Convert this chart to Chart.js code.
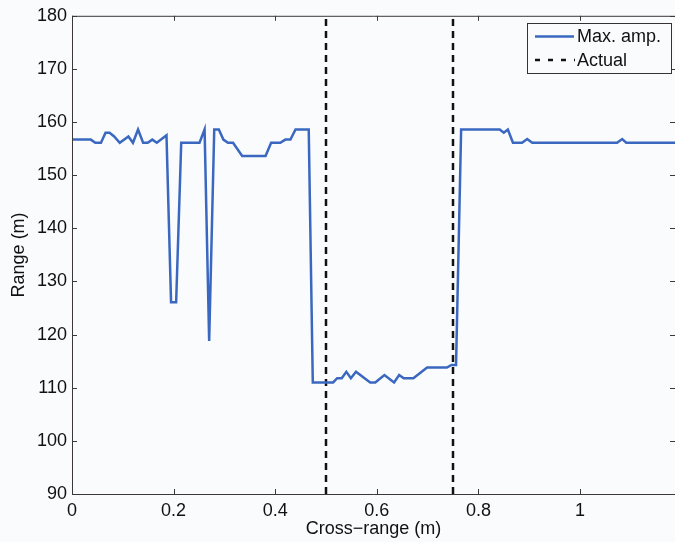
<!DOCTYPE html>
<html>
<head>
<meta charset="utf-8">
<script src="https://cdn.jsdelivr.net/npm/chart.js@4.4.1/dist/chart.umd.min.js"></script>
<style>
  html, body { margin: 0; padding: 0; background: #fafbfd; }
  #wrap { width: 675px; height: 542px; }
</style>
</head>
<body>
<div id="wrap"><canvas id="rangeChart" width="675" height="542"></canvas></div>
<script>
// cross-range positions (m) and max-amplitude range estimates (m)
var crossRange = [0, 0.037, 0.046, 0.057, 0.066, 0.074, 0.083, 0.094, 0.111, 0.120,
    0.130, 0.140, 0.149, 0.158, 0.167, 0.186, 0.195, 0.205, 0.215, 0.251,
    0.261, 0.270, 0.280, 0.289, 0.298, 0.307, 0.317, 0.335, 0.381, 0.392,
    0.410, 0.420, 0.430, 0.440, 0.466, 0.474, 0.514, 0.522, 0.531, 0.540,
    0.549, 0.559, 0.587, 0.597, 0.615, 0.634, 0.644, 0.653, 0.672, 0.699,
    0.738, 0.747, 0.756, 0.766, 0.842, 0.850, 0.858, 0.868, 0.886, 0.896,
    0.906, 1.073, 1.083, 1.091, 1.19];
var maxAmp = [156.7, 156.7, 156.1, 156.1, 158.0, 158.0, 157.3, 156.1, 157.3, 156.1,
    158.6, 156.1, 156.1, 156.7, 156.1, 157.5, 126.1, 126.1, 156.1, 156.1,
    158.6, 118.8, 158.6, 158.6, 156.7, 156.1, 156.1, 153.6, 153.6, 156.1,
    156.1, 156.7, 156.7, 158.6, 158.6, 111.0, 111.0, 111.8, 111.8, 113.0,
    111.8, 113.0, 111.0, 111.0, 112.4, 111.0, 112.4, 111.8, 111.8, 113.8,
    113.8, 114.3, 114.3, 158.6, 158.6, 158.0, 158.6, 156.1, 156.1, 156.8,
    156.1, 156.1, 156.8, 156.1, 156.1];
// actual target edges
var actualEdges = [0.5, 0.75];
var yLimits = [90, 180];
var xTicks = [0, 0.2, 0.4, 0.6, 0.8, 1];
var yTicks = [90, 100, 110, 120, 130, 140, 150, 160, 170, 180];
var legendLabels = ['Max. amp.', 'Actual'];

var blue = '#3a68c0';
var axisColor = '#3c3838';
var font = '"Liberation Sans", Arial, Helvetica, sans-serif';

var ampPoints = crossRange.map(function (x, i) { return { x: x, y: maxAmp[i] }; });

var datasets = [{
    label: legendLabels[0],
    data: ampPoints,
    borderColor: blue,
    borderWidth: 2.5,
    pointRadius: 0,
    tension: 0
}];
actualEdges.forEach(function (e) {
    datasets.push({
        label: legendLabels[1],
        data: [{ x: e, y: yLimits[0] }, { x: e, y: yLimits[1] }],
        borderColor: '#111',
        borderWidth: 2.5,
        borderDash: [7, 5],
        pointRadius: 0
    });
});

// matlab style box with inward ticks
var framePlugin = {
    id: 'frame',
    afterDatasetsDraw: function (chart) {
        var ctx = chart.ctx, a = chart.chartArea;
        var xs = chart.scales.x, ys = chart.scales.y;
        ctx.save();
        ctx.strokeStyle = axisColor;
        ctx.lineWidth = 1;
        ctx.beginPath();
        ctx.moveTo(a.left + 0.5, a.top + 0.5);
        ctx.lineTo(a.right, a.top + 0.5);
        ctx.moveTo(a.left + 0.5, a.top);
        ctx.lineTo(a.left + 0.5, a.bottom + 0.5);
        ctx.lineTo(a.right, a.bottom + 0.5);
        xTicks.forEach(function (t) {
            var px = Math.round(xs.getPixelForValue(t)) + 0.5;
            ctx.moveTo(px, a.bottom); ctx.lineTo(px, a.bottom - 5);
            ctx.moveTo(px, a.top); ctx.lineTo(px, a.top + 5);
        });
        yTicks.forEach(function (t) {
            var py = Math.round(ys.getPixelForValue(t)) + 0.5;
            ctx.moveTo(a.left, py); ctx.lineTo(a.left + 5, py);
            ctx.moveTo(a.right, py); ctx.lineTo(a.right - 5, py);
        });
        ctx.stroke();

        // legend box
        var bx = 527.5, by = 23.5, bw = 144, bh = 50;
        ctx.fillStyle = '#fafbfd';
        ctx.fillRect(bx, by, bw, bh);
        ctx.strokeStyle = '#333';
        ctx.strokeRect(bx, by, bw, bh);
        ctx.lineWidth = 2.5;
        ctx.strokeStyle = blue;
        ctx.beginPath();
        ctx.moveTo(535, 36.5); ctx.lineTo(574, 36.5);
        ctx.stroke();
        ctx.strokeStyle = '#111';
        ctx.setLineDash([5, 8]);
        ctx.beginPath();
        ctx.moveTo(535, 60); ctx.lineTo(575, 60);
        ctx.stroke();
        ctx.setLineDash([]);
        ctx.fillStyle = '#111';
        ctx.font = '18px ' + font;
        ctx.textBaseline = 'middle';
        ctx.textAlign = 'left';
        ctx.fillText(legendLabels[0], 577, 37);
        ctx.fillText(legendLabels[1], 577, 61);
        ctx.restore();
    }
};

new Chart(document.getElementById('rangeChart'), {
    type: 'line',
    data: { datasets: datasets },
    plugins: [framePlugin],
    options: {
        responsive: false,
        animation: false,
        devicePixelRatio: 1,
        layout: { padding: { top: 15, right: 0, left: 0, bottom: 0 } },
        plugins: { legend: { display: false }, tooltip: { enabled: false } },
        scales: {
            x: {
                type: 'linear',
                min: 0,
                max: 1.187,
                afterBuildTicks: function (scale) {
                    scale.ticks = xTicks.map(function (v) { return { value: v }; });
                },
                afterFit: function (scale) { scale.height = 48; },
                grid: { display: false, drawTicks: false },
                border: { display: false },
                ticks: {
                    color: '#111',
                    padding: 6,
                    maxRotation: 0,
                    font: { family: font, size: 18 },
                    callback: function (v) { return String(v); }
                },
                title: {
                    display: true,
                    text: 'Cross\u2212range (m)',
                    color: '#111',
                    font: { family: font, size: 18 },
                    padding: { top: 0, bottom: 2 }
                }
            },
            y: {
                min: yLimits[0],
                max: yLimits[1],
                afterBuildTicks: function (scale) {
                    scale.ticks = yTicks.map(function (v) { return { value: v }; });
                },
                afterFit: function (scale) { scale.width = 72; },
                grid: { display: false, drawTicks: false },
                border: { display: false },
                ticks: {
                    color: '#111',
                    padding: 5,
                    font: { family: font, size: 18 }
                },
                title: {
                    display: true,
                    text: 'Range (m)',
                    color: '#111',
                    font: { family: font, size: 18 },
                    padding: { top: 8, bottom: 0 }
                }
            }
        }
    }
});
</script>
</body>
</html>
